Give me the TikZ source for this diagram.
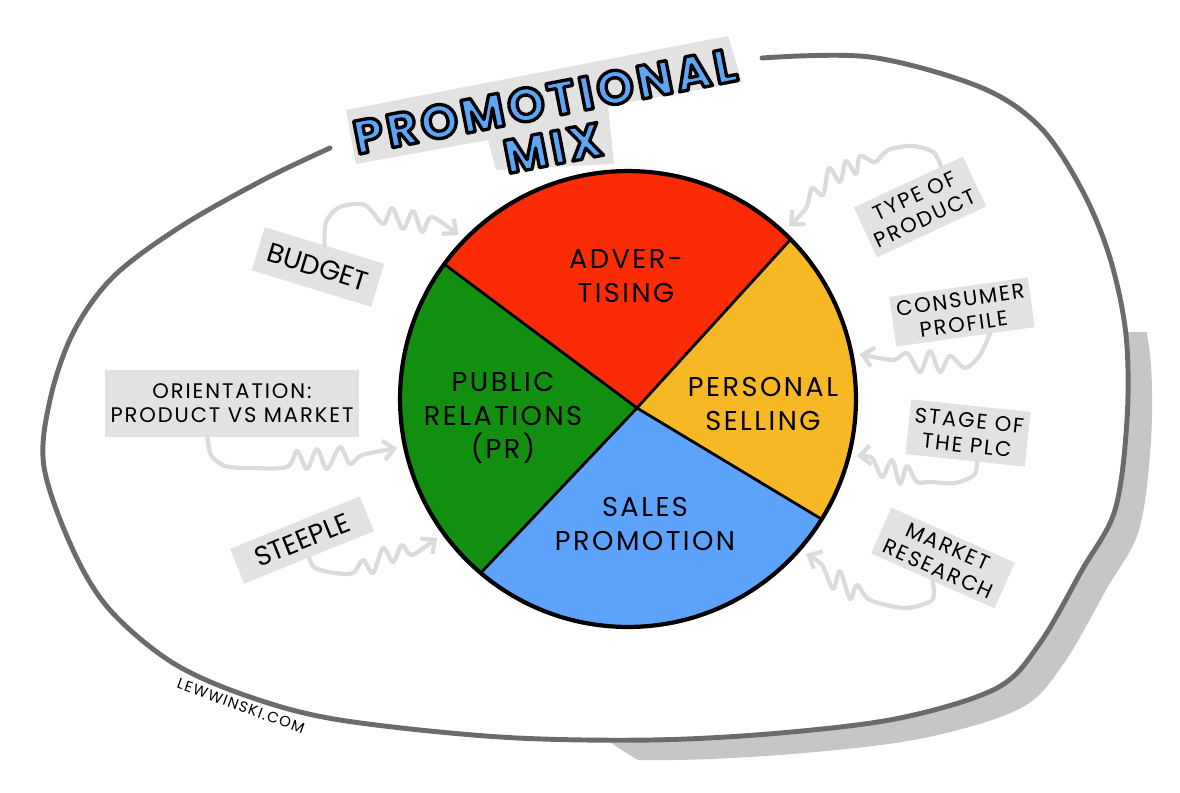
\documentclass[tikz,border=0pt]{standalone}
\usepackage{fontspec}
\usetikzlibrary{arrows.meta,calc}

\newfontfamily\hand[LetterSpace=9]{Poppins}
\newfontfamily\handtight{Poppins}
\newfontfamily\titlefont[LetterSpace=8]{Poppins}
% testo pieno con contorno nero
\newcommand{\outlined}[1]{\special{pdf:literal direct 2 Tr 1.9 w 1 j 0 0 0 RG}#1\special{pdf:literal direct 0 Tr}}

\definecolor{slRed}{HTML}{FB2C05}
\definecolor{slYellow}{HTML}{F6B824}
\definecolor{slGreen}{HTML}{128E11}
\definecolor{slBlue}{HTML}{5DA3FC}
\definecolor{titleBlue}{HTML}{5CA6F8}
\definecolor{tagGray}{HTML}{E2E2E2}
\definecolor{arrowGray}{HTML}{DBDBDB}
\definecolor{blobGray}{HTML}{6B6B67}
\definecolor{shadowGray}{HTML}{C6C6C6}

\tikzset{
    tag/.style={fill=tagGray, align=center, inner sep=3pt, font=\hand\fontsize{12}{14}\selectfont},
    bigtag/.style={tag, font=\handtight\fontsize{15.5}{17}\selectfont},
    nudge/.style={draw=arrowGray, line width=2.4pt, line cap=round, line join=round, -{Straight Barb[length=6pt,width=11pt]}},
    slicetext/.style={align=center, font=\hand\fontsize{15.5}{19}\selectfont},
    titletext/.style={text=titleBlue, font=\titlefont\bfseries\fontsize{27}{30}\selectfont, rotate=11}
}

\begin{document}
\begin{tikzpicture}[x=0.02cm, y=-0.02cm]
    \useasboundingbox (0,0) rectangle (1180,792);

    % Ombra del contorno
    \begin{scope}
        \clip (600,332) rectangle (1180,792);
        \clip (860,380) circle (440);
        \fill[shadowGray, shift={(24,20)}] plot[smooth cycle, tension=0.55] coordinates {(762,58) (870,57) (980,87) (1040,127) (1082,190) (1110,258) (1126,335) (1127,420) (1115,510) (1082,570) (1040,643) (997,688) (900,718) (780,733) (650,740) (500,737) (340,720) (250,697) (173,663) (110,610) (73,550) (44,467) (50,400) (73,333) (113,277) (180,227) (263,180) (330,148)};
    \end{scope}

    % Contorno a mano libera
    \fill[white] plot[smooth cycle, tension=0.55] coordinates {(762,58) (870,57) (980,87) (1040,127) (1082,190) (1110,258) (1126,335) (1127,420) (1115,510) (1082,570) (1040,643) (997,688) (900,718) (780,733) (650,740) (500,737) (340,720) (250,697) (173,663) (110,610) (73,550) (44,467) (50,400) (73,333) (113,277) (180,227) (263,180) (330,148)};
    \draw[blobGray, line width=2.8pt, line cap=round] plot[smooth, tension=0.55] coordinates {(762,58) (870,57) (980,87) (1040,127) (1082,190) (1110,258) (1126,335) (1127,420) (1115,510) (1082,570) (1040,643) (997,688) (900,718) (780,733) (650,740) (500,737) (340,720) (250,697) (173,663) (110,610) (73,550) (44,467) (50,400) (73,333) (113,277) (180,227) (263,180) (330,148)};

    % Titolo
    \fill[tagGray] (346,110) -- (728,36) -- (742,82) -- (608,106) -- (614,164) -- (496,170) -- (488,140) -- (356,164) -- cycle;
    \node[titletext] (promo) at (545,101) {\outlined{PROMOTIONAL}};
    \node[titletext] (mix) at (553,148) {\outlined{MIX}};

    % Fette della torta
    \begin{scope}
        \clip (628,399) circle (228);
        \fill[slRed] (637,408) -- (349,193) -- (349,100) -- (863,100) -- (863,160) -- cycle;
        \fill[slYellow] (637,408) -- (863,160) -- (950,160) -- (950,573) -- (911,573) -- cycle;
        \fill[slBlue] (637,408) -- (911,573) -- (911,700) -- (404,700) -- (404,654) -- cycle;
        \fill[slGreen] (637,408) -- (404,654) -- (300,654) -- (300,193) -- (349,193) -- cycle;
        \draw[line width=1.6pt, line join=round] (349,193) -- (637,408) -- (863,160) (911,573) -- (637,408) -- (404,654);
    \end{scope}
    \node[circle, draw, line width=2.4pt, minimum size=9.12cm, inner sep=0pt, outer sep=0.16cm] (pie) at (628,399) {};

    \node[slicetext] (adv) at (626,276) {ADVER-\\TISING};
    \node[slicetext] (pr) at (503,418) {PUBLIC\\RELATIONS\\(PR)};
    \node[slicetext] (ps) at (763,404) {PERSONAL\\SELLING};
    \node[slicetext] (sp) at (645,524) {SALES\\PROMOTION};

    % Fattori a sinistra
    \node[bigtag, rotate=-17, minimum width=2.5cm, minimum height=0.9cm] (budget) at (318,267) {BUDGET};
    \node[tag, minimum width=5.06cm, minimum height=1.34cm] (orient) at (232,403) {ORIENTATION:\\PRODUCT VS MARKET};
    \node[bigtag, rotate=22, minimum width=2.8cm, minimum height=0.75cm] (steeple) at (302,540) {STEEPLE};

    % Fattori a destra
    \node[tag, rotate=25, minimum width=2.3cm, minimum height=1.1cm] (typeprod) at (920,207) {TYPE OF\\PRODUCT};
    \node[tag, rotate=8, minimum width=2.45cm, minimum height=0.96cm] (consumer) at (962,312) {CONSUMER\\PROFILE};
    \node[tag, rotate=-6, minimum width=2.4cm, minimum height=1.1cm] (plc) at (968,433) {STAGE OF\\THE PLC};
    \node[tag, rotate=-24, minimum width=2.7cm, minimum height=1.0cm] (research) at (943,558) {MARKET\\RESEARCH};

    % Frecce ondulate verso la torta
    \draw[nudge] plot[smooth, tension=0.5] coordinates {(budget.north) (326,222) (340,207) (365,205) (383,224) (392,208) (403,229) (413,211) (422,232) (432,217) (pie.136)};
    \draw[nudge] plot[smooth, tension=0.5] coordinates {(orient.-126) (211,455) (225,466) (250,468) (287,467) (297,451) (307,469) (317,449) (327,469) (340,447) (350,464) (362,455) (pie.192)};
    \draw[nudge] plot[smooth, tension=0.5] coordinates {(steeple.south) (315,568) (335,573) (353,573) (363,560) (373,573) (383,548) (393,562) (402,545) (412,555) (pie.216)};
    \draw[nudge] plot[smooth, tension=0.5] coordinates {($(typeprod.north)!0.6!(typeprod.north east)$) (933,152) (912,146) (888,150) (875,162) (860,156) (856,174) (846,161) (840,182) (829,168) (823,195) (812,188) (806,208) (pie.47)};
    \draw[nudge] plot[smooth, tension=0.5] coordinates {($(consumer.south)!0.35!(consumer.south east)$) (980,355) (965,368) (950,356) (940,372) (930,351) (920,372) (907,353) (893,360) (pie.11)};
    \draw[nudge] plot[smooth, tension=0.5] coordinates {($(plc.south)!0.2!(plc.south east)$) (974,475) (955,483) (930,482) (917,482) (907,466) (900,484) (892,460) (882,477) (872,458) (pie.346)};
    \draw[nudge] plot[smooth, tension=0.5] coordinates {(research.south) (932,600) (905,608) (870,600) (857,585) (850,599) (840,571) (833,589) (822,565) (pie.319)};

    % Firma
    \node[rotate=-20, font=\hand\fontsize{8.5}{10}\selectfont] (sig) at (241,706) {LEWWINSKI.COM};
\end{tikzpicture}
\end{document}
